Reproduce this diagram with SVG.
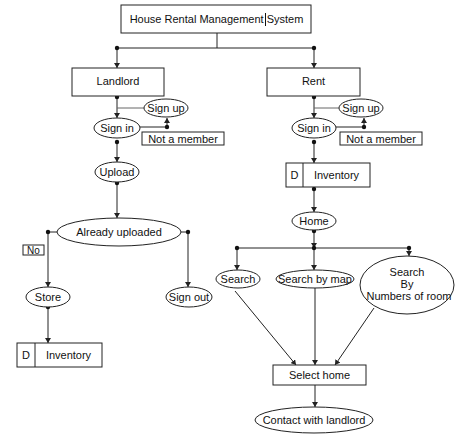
<svg xmlns="http://www.w3.org/2000/svg" width="468" height="445" viewBox="0 0 468 445">
<defs>
<marker id="ah" markerUnits="userSpaceOnUse" markerWidth="6" markerHeight="6" refX="5" refY="3" orient="auto">
<path d="M0,0 L5,3 L0,6 Z" fill="#222"/>
</marker>
<style>
.box{fill:#fff;stroke:#222;stroke-width:1}
.el{fill:#fff;stroke:#222;stroke-width:1}
.t{font-family:"Liberation Sans",Arial,sans-serif;font-size:11px;fill:#111;text-anchor:middle}
.s{font-size:10px}
.c{fill:none;stroke:#222;stroke-width:1}
.g{fill:none;stroke:#666;stroke-width:1}
.a{marker-end:url(#ah)}
.d{fill:#111}
</style>
</defs>
<rect width="468" height="445" fill="#fff"/>
<g id="connectors">
<path class="c" d="M217,33 V48 M117,48 H314"/>
<path class="c a" d="M117,48 V68"/>
<path class="c a" d="M314,48 V68"/>
<path class="c a" d="M117,97 V118"/>
<path class="g" d="M117,108 H144"/>
<path class="c" d="M140,127 H167"/>
<path class="c a" d="M167,127 V118"/>
<path class="c a" d="M117,142 V162"/>
<path class="c a" d="M117,183 V218"/>
<path class="c" d="M57,232 H48"/>
<path class="c a" d="M48,232 V287"/>
<path class="c" d="M181,232 H188"/>
<path class="c a" d="M188,232 V287"/>
<path class="c a" d="M48,307 V343"/>
<path class="c a" d="M314,97 V118"/>
<path class="g" d="M314,108 H339"/>
<path class="c" d="M336,127 H364"/>
<path class="c a" d="M364,127 V118"/>
<path class="c a" d="M314,142 V163"/>
<path class="c a" d="M314,189 V212"/>
<path class="c a" d="M314,231 V248"/>
<path class="c" d="M237,248 H409"/>
<path class="c a" d="M237,248 V270"/>
<path class="c a" d="M314,248 V270"/>
<path class="c a" d="M409,248 V256"/>
<path class="c a" d="M235,291 L296,365"/>
<path class="c a" d="M315,288 V365"/>
<path class="c a" d="M374,308 L335,365"/>
<path class="c a" d="M315,385 V407"/>
<circle class="d" cx="117" cy="48" r="2.2"/>
<circle class="d" cx="314" cy="48" r="2.2"/>
<circle class="d" cx="117" cy="97" r="2.2"/>
<circle class="d" cx="167" cy="127" r="2.2"/>
<circle class="d" cx="117" cy="142" r="2.2"/>
<circle class="d" cx="117" cy="183" r="2.2"/>
<circle class="d" cx="48" cy="232" r="2.2"/>
<circle class="d" cx="188" cy="232" r="2.2"/>
<circle class="d" cx="48" cy="307" r="2.2"/>
<circle class="d" cx="314" cy="97" r="2.2"/>
<circle class="d" cx="364" cy="127" r="2.2"/>
<circle class="d" cx="314" cy="142" r="2.2"/>
<circle class="d" cx="314" cy="189" r="2.2"/>
<circle class="d" cx="314" cy="231" r="2.2"/>
<circle class="d" cx="237" cy="248" r="2.2"/>
<circle class="d" cx="314" cy="248" r="2.2"/>
<circle class="d" cx="409" cy="248" r="2.2"/>
</g>
<g id="title">
<rect class="box" x="121" y="5" width="190" height="28"/>
<text class="t" x="216.5" y="23">House Rental Management System</text>
<line x1="265.5" y1="13" x2="265.5" y2="26" stroke="#111" stroke-width="1"/>
</g>
<g id="landlord">
<rect class="box" x="72" y="68" width="92" height="28"/>
<text class="t" x="118" y="85">Landlord</text>
</g>
<g id="rent">
<rect class="box" x="267" y="68" width="93" height="28"/>
<text class="t" x="313.5" y="85">Rent</text>
</g>
<g id="signup-l">
<ellipse class="el" cx="166" cy="108" rx="22" ry="9"/>
<text class="t" x="166" y="112">Sign up</text>
</g>
<g id="signin-l">
<ellipse class="el" cx="117" cy="128" rx="23" ry="10"/>
<text class="t" x="117" y="132">Sign in</text>
</g>
<g id="notmember-l">
<rect class="box" x="142" y="132" width="82" height="13"/>
<text class="t" x="183" y="142.5">Not a member</text>
</g>
<g id="signup-r">
<ellipse class="el" cx="361" cy="108" rx="22" ry="9"/>
<text class="t" x="361" y="112">Sign up</text>
</g>
<g id="signin-r">
<ellipse class="el" cx="314" cy="128" rx="22" ry="10"/>
<text class="t" x="314" y="132">Sign in</text>
</g>
<g id="notmember-r">
<rect class="box" x="340" y="132" width="82" height="13"/>
<text class="t" x="381" y="142.5">Not a member</text>
</g>
<g id="upload">
<ellipse class="el" cx="117" cy="172" rx="22" ry="10"/>
<text class="t" x="117" y="176">Upload</text>
</g>
<g id="already">
<ellipse class="el" cx="119" cy="232" rx="62" ry="14"/>
<text class="t" x="119" y="236">Already uploaded</text>
</g>
<g id="no">
<rect class="box" x="23" y="245" width="21" height="10"/>
<text class="t s" x="33.5" y="254">No</text>
</g>
<g id="store">
<ellipse class="el" cx="48" cy="297" rx="22" ry="10"/>
<text class="t" x="48" y="301">Store</text>
</g>
<g id="signout">
<ellipse class="el" cx="189" cy="297" rx="23" ry="10"/>
<text class="t" x="189" y="301">Sign out</text>
</g>
<g id="inventory-l">
<rect class="box" x="17" y="343" width="85" height="24"/>
<line class="c" x1="35" y1="343" x2="35" y2="367"/>
<text class="t" x="26" y="359">D</text>
<text class="t" x="68.5" y="359">Inventory</text>
</g>
<g id="inventory-r">
<rect class="box" x="286" y="163" width="84" height="24"/>
<line class="c" x1="303" y1="163" x2="303" y2="187"/>
<text class="t" x="294.5" y="179">D</text>
<text class="t" x="336.5" y="179">Inventory</text>
</g>
<g id="home">
<ellipse class="el" cx="314" cy="221" rx="22" ry="9"/>
<text class="t" x="314" y="225">Home</text>
</g>
<g id="search">
<ellipse class="el" cx="238" cy="279" rx="22" ry="9"/>
<text class="t" x="238" y="283">Search</text>
</g>
<g id="searchmap">
<ellipse class="el" cx="315" cy="279" rx="39" ry="9"/>
<text class="t" x="315" y="283">Search by map</text>
</g>
<g id="searchrooms">
<ellipse class="el" cx="407" cy="285" rx="47" ry="29"/>
<text class="t" x="407" y="276">Search</text>
<text class="t" x="407" y="288">By</text>
<text class="t" x="409" y="300">Numbers of room</text>
</g>
<g id="selecthome">
<rect class="box" x="273" y="365" width="93" height="20"/>
<text class="t" x="319.5" y="379">Select home</text>
</g>
<g id="contact">
<ellipse class="el" cx="314" cy="420" rx="59" ry="13"/>
<text class="t" x="314" y="424">Contact with landlord</text>
</g>
</svg>
